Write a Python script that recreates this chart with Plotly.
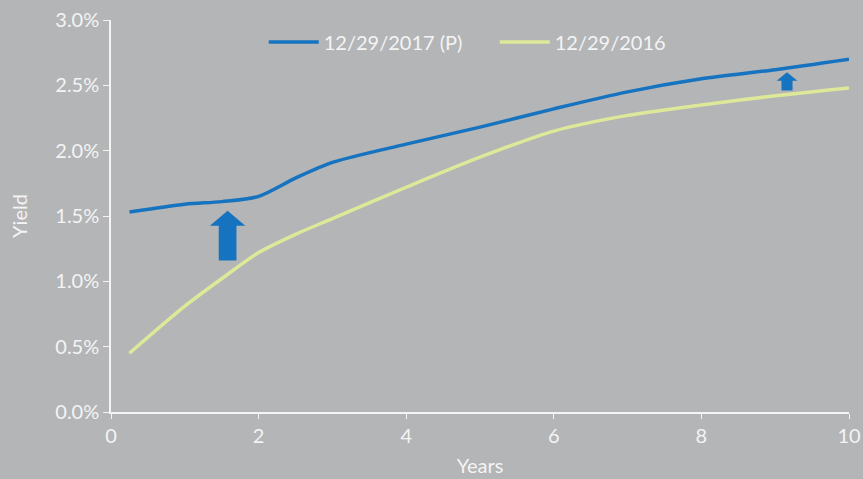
import plotly.graph_objects as go

# yield curves (years to maturity, yield in %)
years = [0.25, 1, 1.5, 2, 2.5, 3, 4, 5, 6, 7, 8, 9, 10]
yield_2017 = [1.53, 1.59, 1.61, 1.65, 1.79, 1.91, 2.05, 2.18, 2.32, 2.45, 2.55, 2.62, 2.70]
yield_2016 = [0.45, 0.81, 1.02, 1.22, 1.36, 1.48, 1.72, 1.95, 2.15, 2.27, 2.35, 2.42, 2.48]

# up arrows: x position, base, tip (yield %), body width, head width (years), head length (%)
arrow_x = [1.58, 9.16]
arrow_base = [1.16, 2.46]
arrow_tip = [1.54, 2.60]
arrow_body_w = [0.24, 0.15]
arrow_head_w = [0.48, 0.28]
arrow_head_len = [0.115, 0.064]

BLUE = "#1673c0"
GREEN = "#dde899"
BG = "#b3b5b7"
FG = "#f4f4f4"


def arrow_path(x, base, tip, bw, hw, hl):
    neck = tip - hl
    xs = [x - bw / 2, x - bw / 2, x - hw / 2, x, x + hw / 2, x + bw / 2, x + bw / 2, x - bw / 2]
    ys = [base, neck, neck, tip, neck, neck, base, base]
    return xs, ys


fig = go.Figure()
fig.add_trace(go.Scatter(
    x=years, y=yield_2017, mode="lines", name="12/29/2017 (P)",
    line=dict(color=BLUE, width=3.5, shape="spline", smoothing=0.8), hoverinfo="skip",
))
fig.add_trace(go.Scatter(
    x=years, y=yield_2016, mode="lines", name="12/29/2016",
    line=dict(color=GREEN, width=3.5, shape="spline", smoothing=0.8), hoverinfo="skip",
))
for x, b, t, bw, hw, hl in zip(arrow_x, arrow_base, arrow_tip, arrow_body_w, arrow_head_w, arrow_head_len):
    ax, ay = arrow_path(x, b, t, bw, hw, hl)
    fig.add_trace(go.Scatter(
        x=ax, y=ay, mode="lines", fill="toself", fillcolor=BLUE,
        line=dict(width=0, color=BLUE), showlegend=False, hoverinfo="skip",
    ))

fig.update_layout(
    width=863, height=479,
    paper_bgcolor=BG, plot_bgcolor=BG,
    margin=dict(l=111, r=14, t=20, b=67, autoexpand=False),
    font=dict(family="Lato, 'Open Sans', sans-serif", size=20, color=FG),
    showlegend=True,
    legend=dict(orientation="h", x=0.207, y=0.944, xanchor="left", yanchor="middle",
                bgcolor="rgba(0,0,0,0)", itemwidth=50, entrywidth=166,
                font=dict(size=20, color=FG), traceorder="normal"),
    xaxis=dict(
        range=[0, 10], tickvals=[0, 2, 4, 6, 8, 10], showgrid=False, zeroline=False,
        showline=True, linecolor=FG, linewidth=1.5, ticks="outside", ticklen=5,
        tickcolor=FG, automargin=False,
        title=dict(text="Years", standoff=13, font=dict(size=20, color=FG)),
    ),
    yaxis=dict(
        range=[0, 3.0], tickvals=[0, 0.5, 1.0, 1.5, 2.0, 2.5, 3.0],
        ticktext=["0.0%", "0.5%", "1.0%", "1.5%", "2.0%", "2.5%", "3.0%"],
        showgrid=False, zeroline=False, showline=True, linecolor=FG, linewidth=1.5,
        ticks="outside", ticklen=6, tickcolor=FG, automargin=False,
        title=dict(text="Yield", standoff=22, font=dict(size=20, color=FG)),
    ),
)

fig.write_html("out.html", config={"displayModeBar": False},
               post_script="document.body.style.margin='0px';")
